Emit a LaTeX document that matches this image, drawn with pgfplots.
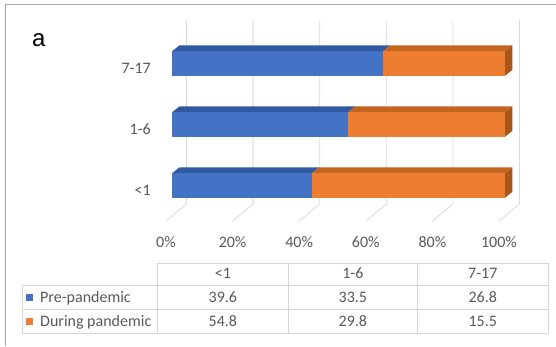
\documentclass[border=0pt]{standalone}
\usepackage{pgfplots}
\usepackage{pgfplotstable}
\pgfplotsset{compat=1.18}
\usepackage{fontspec}
\setmainfont{Carlito}
\newfontfamily\panelfont{Liberation Sans}

\definecolor{preblue}{HTML}{4472C4}
\definecolor{pretop}{HTML}{3159A2}
\definecolor{durorange}{HTML}{ED7D31}
\definecolor{durtop}{HTML}{C3651F}
\definecolor{durside}{HTML}{A9561B}
\definecolor{gridgray}{HTML}{D9D9D9}
\definecolor{textgray}{HTML}{595959}
\definecolor{rulegray}{HTML}{D6D6D6}
\definecolor{framegray}{HTML}{A6A6A6}

% share of children per age group (%), before and during the pandemic
\pgfplotstableread{
cat pre during
0 39.6 54.8
1 33.5 29.8
2 26.8 15.5
}\agedata
% 100% stacked: share of the pre-pandemic part in each bar
\pgfplotstablecreatecol[create col/expr={100*\thisrow{pre}/(\thisrow{pre}+\thisrow{during})}]{prepct}\agedata

% depth of the 3-D bars, in axis units (x: per cent, y: category)
\def\fdx{1.80}\def\fdy{0.082}% front face of a bar
\def\bdx{4.05}\def\bdy{0.180}% back face of a bar
\def\hw{0.2}% half bar height

\newcommand\tabfont{\fontsize{16}{18}\selectfont}

\begin{document}
\begin{tikzpicture}[x=1pt,y=1pt]
\fill[white] (0,0) rectangle (556,346);
\useasboundingbox (0,0) rectangle (556,346);
\draw[framegray, line width=1.2pt] (5.5,0) -- (5.5,341.3) -- (556,341.3);

\node[font=\panelfont\fontsize{24}{26}\selectfont] at (38.8,306) {a};

\begin{axis}[
  at={(166pt,125pt)}, anchor=south west,
  x=3.33pt, y=61pt,
  xmin=0, xmax=100, ymin=-0.5, ymax=2.5,
  clip=false,
  axis line style={draw=none},
  major tick length=0pt,
  xtick={0,20,40,60,80,100},
  xticklabels={0\%,20\%,40\%,60\%,80\%,100\%},
  ytick={0,1,2},
  yticklabels={<1,1-6,7-17},
  ticklabel style={font=\tabfont, text=textgray, inner sep=0pt},
  xticklabel style={anchor=center, yshift=-20.7pt},
  yticklabel style={anchor=east, xshift=-15pt},
]
% back wall and floor lines of the 3-D frame
\pgfplotsinvokeforeach{0,20,40,60,80,100}{
  \draw[gridgray, line width=0.8pt] (axis cs:#1,-0.5) -- ++(20.5pt,17pt) -- ++(0pt,183pt);
}
% bars: top faces, side face, then front faces
\pgfplotsinvokeforeach{0,1,2}{
  \pgfplotstablegetelem{#1}{prepct}\of\agedata
  \pgfmathsetmacro\xa{\fdx}
  \pgfmathsetmacro\xb{\fdx+\pgfplotsretval}
  \pgfmathsetmacro\xc{\fdx+100}
  \pgfmathsetmacro\xA{\bdx}
  \pgfmathsetmacro\xB{\bdx+\pgfplotsretval}
  \pgfmathsetmacro\xC{\bdx+100}
  \pgfmathsetmacro\ylo{#1-\hw+\fdy}
  \pgfmathsetmacro\yhi{#1+\hw+\fdy}
  \pgfmathsetmacro\yLo{#1-\hw+\bdy}
  \pgfmathsetmacro\yHi{#1+\hw+\bdy}
  \edef\drawbar{%
    \noexpand\addplot[fill=pretop, draw=none] coordinates {(\xa,\yhi) (\xb,\yhi) (\xB,\yHi) (\xA,\yHi)};
    \noexpand\addplot[fill=durtop, draw=none] coordinates {(\xb,\yhi) (\xc,\yhi) (\xC,\yHi) (\xB,\yHi)};
    \noexpand\addplot[fill=durside, draw=none] coordinates {(\xc,\ylo) (\xc,\yhi) (\xC,\yHi) (\xC,\yLo)};
    \noexpand\addplot[fill=preblue, draw=none] coordinates {(\xa,\ylo) (\xb,\ylo) (\xb,\yhi) (\xa,\yhi)};
    \noexpand\addplot[fill=durorange, draw=none] coordinates {(\xb,\ylo) (\xc,\ylo) (\xc,\yhi) (\xb,\yhi)};
  }\drawbar
}
\end{axis}

% data table under the chart
\begin{scope}[rulegray, line width=0.8pt]
  \draw (157.8,83) -- (547.9,83);
  \draw (22,61) -- (547.9,61);
  \draw (22,36.7) -- (547.9,36.7);
  \draw (22,12.7) -- (547.9,12.7);
  \draw (22,12.7) -- (22,61);
  \foreach \cx in {157.8,288,417.7,547.9} \draw (\cx,12.7) -- (\cx,83);
\end{scope}
\begin{scope}[every node/.style={font=\tabfont, text=textgray, inner sep=0pt, anchor=base}]
  \node at (222.9,67.5) {<1};
  \node at (352.9,67.5) {1-6};
  \node at (482.8,67.5) {7-17};
  \fill[preblue] (26,45.5) rectangle (33,52.5);
  \fill[durorange] (26,21.2) rectangle (33,28.2);
  \node[anchor=base west] at (40,44) {Pre-pandemic};
  \node[anchor=base west] at (40,19.7) {During pandemic};
  \pgfplotstablegetelem{0}{pre}\of\agedata \node at (222.9,44) {\pgfplotsretval};
  \pgfplotstablegetelem{1}{pre}\of\agedata \node at (352.9,44) {\pgfplotsretval};
  \pgfplotstablegetelem{2}{pre}\of\agedata \node at (482.8,44) {\pgfplotsretval};
  \pgfplotstablegetelem{0}{during}\of\agedata \node at (222.9,19.7) {\pgfplotsretval};
  \pgfplotstablegetelem{1}{during}\of\agedata \node at (352.9,19.7) {\pgfplotsretval};
  \pgfplotstablegetelem{2}{during}\of\agedata \node at (482.8,19.7) {\pgfplotsretval};
\end{scope}
\end{tikzpicture}
\end{document}
